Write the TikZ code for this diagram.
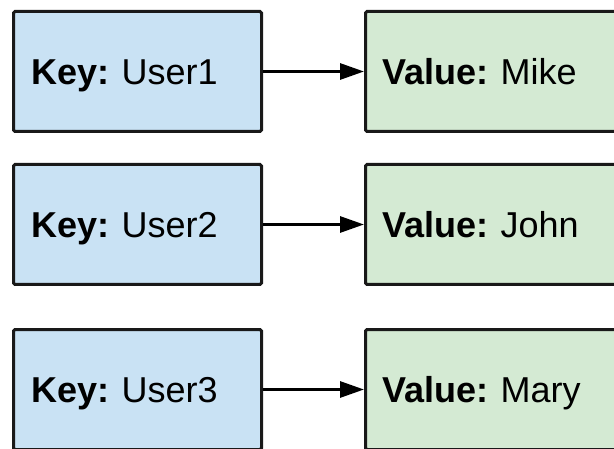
\documentclass[tikz,border=0pt]{standalone}
\usepackage{fontspec}
\setmainfont{Liberation Sans}
\frenchspacing
\usetikzlibrary{positioning}
\usetikzlibrary{arrows.meta}
\definecolor{keyblue}{HTML}{C9E2F4}
\definecolor{valgreen}{HTML}{D4EAD3}
\tikzset{
    keynode/.style = {rectangle, line width=3pt, draw=black!90, rounded corners=1.5pt, fill=keyblue, align=left, text width=212pt, inner xsep=18pt, minimum height=120pt, text height=26pt, text depth=0pt, font=\fontsize{36}{40}\selectfont, text=black},
    valnode/.style = {rectangle, line width=3pt, draw=black!90, rounded corners=1.5pt, fill=valgreen, align=left, text width=240pt, inner xsep=17pt, minimum height=120pt, text height=26pt, text depth=0pt, font=\fontsize{36}{40}\selectfont, text=black},
    edgek/.style = {-{Triangle[length=24pt,width=16pt]}, line width=3pt, black}
}
\begin{document}
\begin{tikzpicture}[x=1pt,y=1pt]
  \clip (0,0) rectangle (614,448);
  \node[keynode, anchor=west] (k1) at (12,376.5) {\textbf{Key:} User1};
  \node[keynode, below=30pt of k1] (k2) {\textbf{Key:} User2};
  \node[keynode, below=42pt of k2] (k3) {\textbf{Key:} User3};
  \node[valnode, right=101pt of k1] (v1) {\textbf{Value:} Mike};
  \node[valnode, right=101pt of k2] (v2) {\textbf{Value:} John};
  \node[valnode, right=101pt of k3] (v3) {\textbf{Value:} Mary};
  % key -> value
  \draw[edgek] (k1) -- (v1);
  \draw[edgek] (k2) -- (v2);
  \draw[edgek] (k3) -- (v3);
\end{tikzpicture}
\end{document}
